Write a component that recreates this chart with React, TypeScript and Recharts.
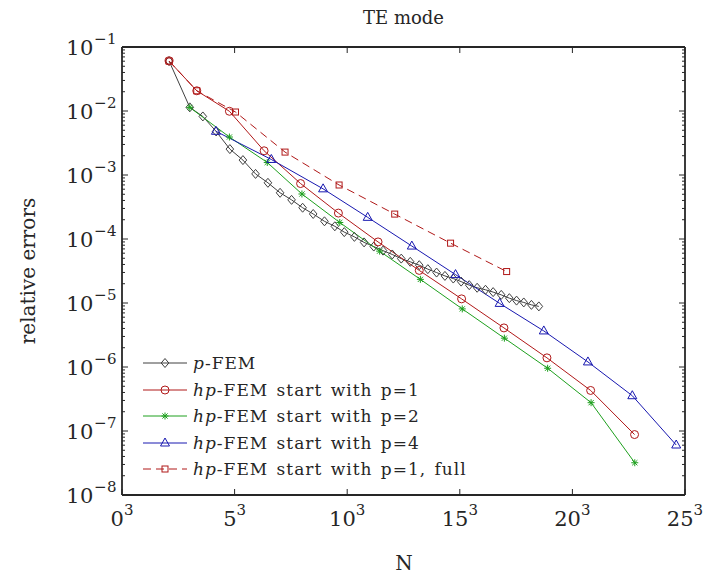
import React from "react";
import { LineChart, Line, XAxis, YAxis, Legend } from "recharts";

// x positions are N^(1/3), y values are relative errors
const pfemN = [2.09, 3.01, 3.59, 4.18, 4.79, 5.37, 5.93, 6.48, 7.02, 7.53, 8.02, 8.49, 8.99, 9.45, 9.87, 10.32, 10.75, 11.18, 11.59, 12.0, 12.4, 12.8, 13.2, 13.58, 13.97, 14.34, 14.71, 15.06, 15.42, 15.77, 16.14, 16.48, 16.84, 17.2, 17.52, 17.84, 18.18, 18.51];
const pfemErr = [6.04e-2, 1.14e-2, 8.22e-3, 4.79e-3, 2.54e-3, 1.71e-3, 1.04e-3, 7.55e-4, 5.27e-4, 4.09e-4, 3.08e-4, 2.46e-4, 1.89e-4, 1.58e-4, 1.28e-4, 1.08e-4, 8.85e-5, 7.62e-5, 6.58e-5, 5.73e-5, 4.94e-5, 4.4e-5, 3.9e-5, 3.38e-5, 2.99e-5, 2.65e-5, 2.41e-5, 2.16e-5, 1.9e-5, 1.73e-5, 1.61e-5, 1.48e-5, 1.34e-5, 1.19e-5, 1.09e-5, 1.02e-5, 9.35e-6, 8.85e-6];

const hp1N = [2.09, 3.32, 4.77, 6.31, 7.93, 9.61, 11.37, 13.2, 15.08, 16.96, 18.87, 20.81, 22.76];
const hp1Err = [6.04e-2, 2.07e-2, 9.9e-3, 2.39e-3, 7.35e-4, 2.54e-4, 9.0e-5, 3.23e-5, 1.16e-5, 4.08e-6, 1.39e-6, 4.3e-7, 8.8e-8];

const hp2N = [3.01, 4.77, 6.45, 7.99, 9.67, 11.44, 13.25, 15.11, 16.98, 18.9, 20.83, 22.77];
const hp2Err = [1.137e-2, 3.92e-3, 1.57e-3, 5.05e-4, 1.81e-4, 6.46e-5, 2.34e-5, 8.09e-6, 2.82e-6, 9.56e-7, 2.77e-7, 3.19e-8];

const hp4N = [4.17, 6.63, 8.93, 10.91, 12.87, 14.81, 16.77, 18.73, 20.69, 22.66, 24.61];
const hp4Err = [4.82e-3, 1.75e-3, 6.08e-4, 2.18e-4, 7.76e-5, 2.78e-5, 9.86e-6, 3.66e-6, 1.2e-6, 3.56e-7, 6.04e-8];

const fullN = [2.09, 3.32, 5.04, 7.24, 9.64, 12.11, 14.59, 17.08];
const fullErr = [6.04e-2, 2.07e-2, 9.64e-3, 2.28e-3, 6.98e-4, 2.45e-4, 8.61e-5, 3.1e-5];

const xTicks = [0, 5, 10, 15, 20, 25];
const yDecades = [-8, -7, -6, -5, -4, -3, -2, -1];
const yTicks: number[] = [];
yDecades.forEach((d) => {
  yTicks.push(Math.pow(10, d));
  if (d < -1) for (let m = 2; m <= 9; m++) yTicks.push(m * Math.pow(10, d));
});

const FONT = "'DejaVu Serif', serif";
const INK = "#262626";
const RED = "#b01818";
const GREEN = "#1ea01e";
const BLUE = "#1818b0";
const GRAY = "#404040";

const rows = (n: number[], e: number[]) => n.map((v, i) => ({ n: v, err: e[i] }));

type MarkerKind = "diamond" | "circle" | "star" | "triangle" | "square";

function Marker({ kind, cx, cy, color }: { kind: MarkerKind; cx: number; cy: number; color: string }) {
  const p = { fill: "none", stroke: color, strokeWidth: 1 };
  if (kind === "circle") return <circle cx={cx} cy={cy} r={4} {...p} />;
  if (kind === "square") return <rect x={cx - 3} y={cy - 3} width={6} height={6} {...p} />;
  if (kind === "diamond")
    return <polygon points={`${cx},${cy - 4.5} ${cx + 3.8},${cy} ${cx},${cy + 4.5} ${cx - 3.8},${cy}`} {...p} />;
  if (kind === "triangle")
    return <polygon points={`${cx},${cy - 5} ${cx + 4.5},${cy + 3} ${cx - 4.5},${cy + 3}`} {...p} />;
  const s = 3.5;
  const d = 2.6;
  return (
    <g stroke={color} strokeWidth={1}>
      <line x1={cx - s} y1={cy} x2={cx + s} y2={cy} />
      <line x1={cx} y1={cy - s} x2={cx} y2={cy + s} />
      <line x1={cx - d} y1={cy - d} x2={cx + d} y2={cy + d} />
      <line x1={cx - d} y1={cy + d} x2={cx + d} y2={cy - d} />
    </g>
  );
}

const dotFor = (kind: MarkerKind, color: string, id: string) => (props: any) => {
  const { cx, cy, index } = props;
  if (cx == null || cy == null) return <g key={`${id}-${index}`} />;
  return (
    <g key={`${id}-${index}`}>
      <Marker kind={kind} cx={cx} cy={cy} color={color} />
    </g>
  );
};

const series = [
  { id: "pfem", data: rows(pfemN, pfemErr), color: GRAY, kind: "diamond" as MarkerKind, dash: undefined, it: "p", rest: "-FEM" },
  { id: "hp1", data: rows(hp1N, hp1Err), color: RED, kind: "circle" as MarkerKind, dash: undefined, it: "hp", rest: "-FEM start with p=1" },
  { id: "hp2", data: rows(hp2N, hp2Err), color: GREEN, kind: "star" as MarkerKind, dash: undefined, it: "hp", rest: "-FEM start with p=2" },
  { id: "hp4", data: rows(hp4N, hp4Err), color: BLUE, kind: "triangle" as MarkerKind, dash: undefined, it: "hp", rest: "-FEM start with p=4" },
  { id: "full", data: rows(fullN, fullErr), color: RED, kind: "square" as MarkerKind, dash: "8 5", it: "hp", rest: "-FEM start with p=1, full" },
];

const isMajor = (v: number) => Math.abs(Math.log10(v) - Math.round(Math.log10(v))) < 1e-6;

function LeftTick(props: any) {
  const { x, y, payload } = props;
  const v = payload.value;
  const major = isMajor(v);
  const exp = Math.round(Math.log10(v));
  return (
    <g>
      <line x1={x} y1={y} x2={x + (major ? 6 : 3)} y2={y} stroke={INK} />
      {major && (
        <text x={x - 5} y={y + 8} textAnchor="end" fontFamily={FONT} fontSize={21} fill={INK} letterSpacing={0.5}>
          <tspan>10</tspan>
          <tspan dy={-11} fontSize={15}>{`\u2212${-exp}`}</tspan>
        </text>
      )}
    </g>
  );
}

function RightTick(props: any) {
  const { x, y, payload } = props;
  const major = isMajor(payload.value);
  return <line x1={x} y1={y} x2={x - (major ? 6 : 3)} y2={y} stroke={INK} />;
}

function BottomTick(props: any) {
  const { x, y, payload } = props;
  return (
    <g>
      <line x1={x} y1={y} x2={x} y2={y - 6} stroke={INK} />
      <text x={x} y={y + 31} textAnchor="middle" fontFamily={FONT} fontSize={21} fill={INK}>
        <tspan>{payload.value}</tspan>
        <tspan dy={-11} fontSize={15}>3</tspan>
      </text>
    </g>
  );
}

function TopTick(props: any) {
  const { x, y } = props;
  return <line x1={x} y1={y} x2={x} y2={y + 6} stroke={INK} />;
}

function LegendBox() {
  return (
    <div style={{ fontFamily: FONT, fontSize: 17, color: INK, letterSpacing: 1, wordSpacing: 2 }}>
      {series.map((s) => (
        <div key={s.id} style={{ display: "flex", alignItems: "center", height: 26.5, whiteSpace: "nowrap" }}>
          <svg width={50} height={16} style={{ flex: "none" }}>
            <line x1={3} y1={8} x2={47} y2={8} stroke={s.color} strokeWidth={1} strokeDasharray={s.dash} />
            <Marker kind={s.kind} cx={25} cy={8} color={s.color} />
          </svg>
          <span style={{ marginLeft: 3 }}>
            <i>{s.it}</i>
            {s.rest}
          </span>
        </div>
      ))}
    </div>
  );
}

export default function App() {
  return (
    <div style={{ position: "absolute", left: 0, top: 0, width: 726, height: 581, background: "#fff" }}>
      <div
        style={{
          position: "absolute",
          left: 0,
          width: 807,
          top: 7,
          textAlign: "center",
          fontFamily: FONT,
          fontSize: 18,
          color: INK,
        }}
      >
        TE mode
      </div>
      <div
        style={{
          position: "absolute",
          left: 28,
          top: 271,
          transform: "translate(-50%, -50%) rotate(-90deg)",
          fontFamily: FONT,
          fontSize: 20,
          color: INK,
          whiteSpace: "nowrap",
        }}
      >
        relative errors
      </div>
      <div
        style={{
          position: "absolute",
          left: 404,
          top: 563,
          transform: "translate(-50%, -50%)",
          fontFamily: FONT,
          fontSize: 20,
          color: INK,
        }}
      >
        N
      </div>
      <LineChart width={726} height={581} margin={{ top: 46, right: 40, bottom: 46, left: 42 }}>
        <XAxis
          xAxisId={0}
          type="number"
          dataKey="n"
          domain={[0, 25]}
          ticks={xTicks}
          interval={0}
          allowDataOverflow
          height={40}
          tickSize={0}
          tickMargin={0}
          tickLine={false}
          axisLine={{ stroke: INK, strokeWidth: 1.8 }}
          tick={<BottomTick />}
        />
        <XAxis
          xAxisId="t"
          orientation="top"
          type="number"
          dataKey="n"
          domain={[0, 25]}
          ticks={xTicks}
          interval={0}
          allowDataOverflow
          height={1}
          tickSize={0}
          tickMargin={0}
          tickLine={false}
          axisLine={{ stroke: INK, strokeWidth: 1.8 }}
          tick={<TopTick />}
        />
        <YAxis
          yAxisId={0}
          type="number"
          scale="log"
          domain={[1e-8, 1e-1]}
          ticks={yTicks}
          interval={0}
          allowDataOverflow
          width={80}
          tickSize={0}
          tickMargin={0}
          tickLine={false}
          axisLine={{ stroke: INK, strokeWidth: 1.8 }}
          tick={<LeftTick />}
        />
        <YAxis
          yAxisId="r"
          orientation="right"
          type="number"
          scale="log"
          domain={[1e-8, 1e-1]}
          ticks={yTicks}
          interval={0}
          allowDataOverflow
          width={1}
          tickSize={0}
          tickMargin={0}
          tickLine={false}
          axisLine={{ stroke: INK, strokeWidth: 1.8 }}
          tick={<RightTick />}
        />
        {series.map((s) => (
          <Line
            key={s.id}
            data={s.data}
            dataKey="err"
            type="linear"
            stroke={s.color}
            strokeWidth={1}
            strokeDasharray={s.dash}
            dot={dotFor(s.kind, s.color, s.id)}
            activeDot={false}
            isAnimationActive={false}
            legendType="none"
          />
        ))}
        <Legend
          layout="vertical"
          align="center"
          verticalAlign="middle"
          wrapperStyle={{ left: 140, top: 350, width: 400, height: 135 }}
          content={() => <LegendBox />}
        />
      </LineChart>
    </div>
  );
}
